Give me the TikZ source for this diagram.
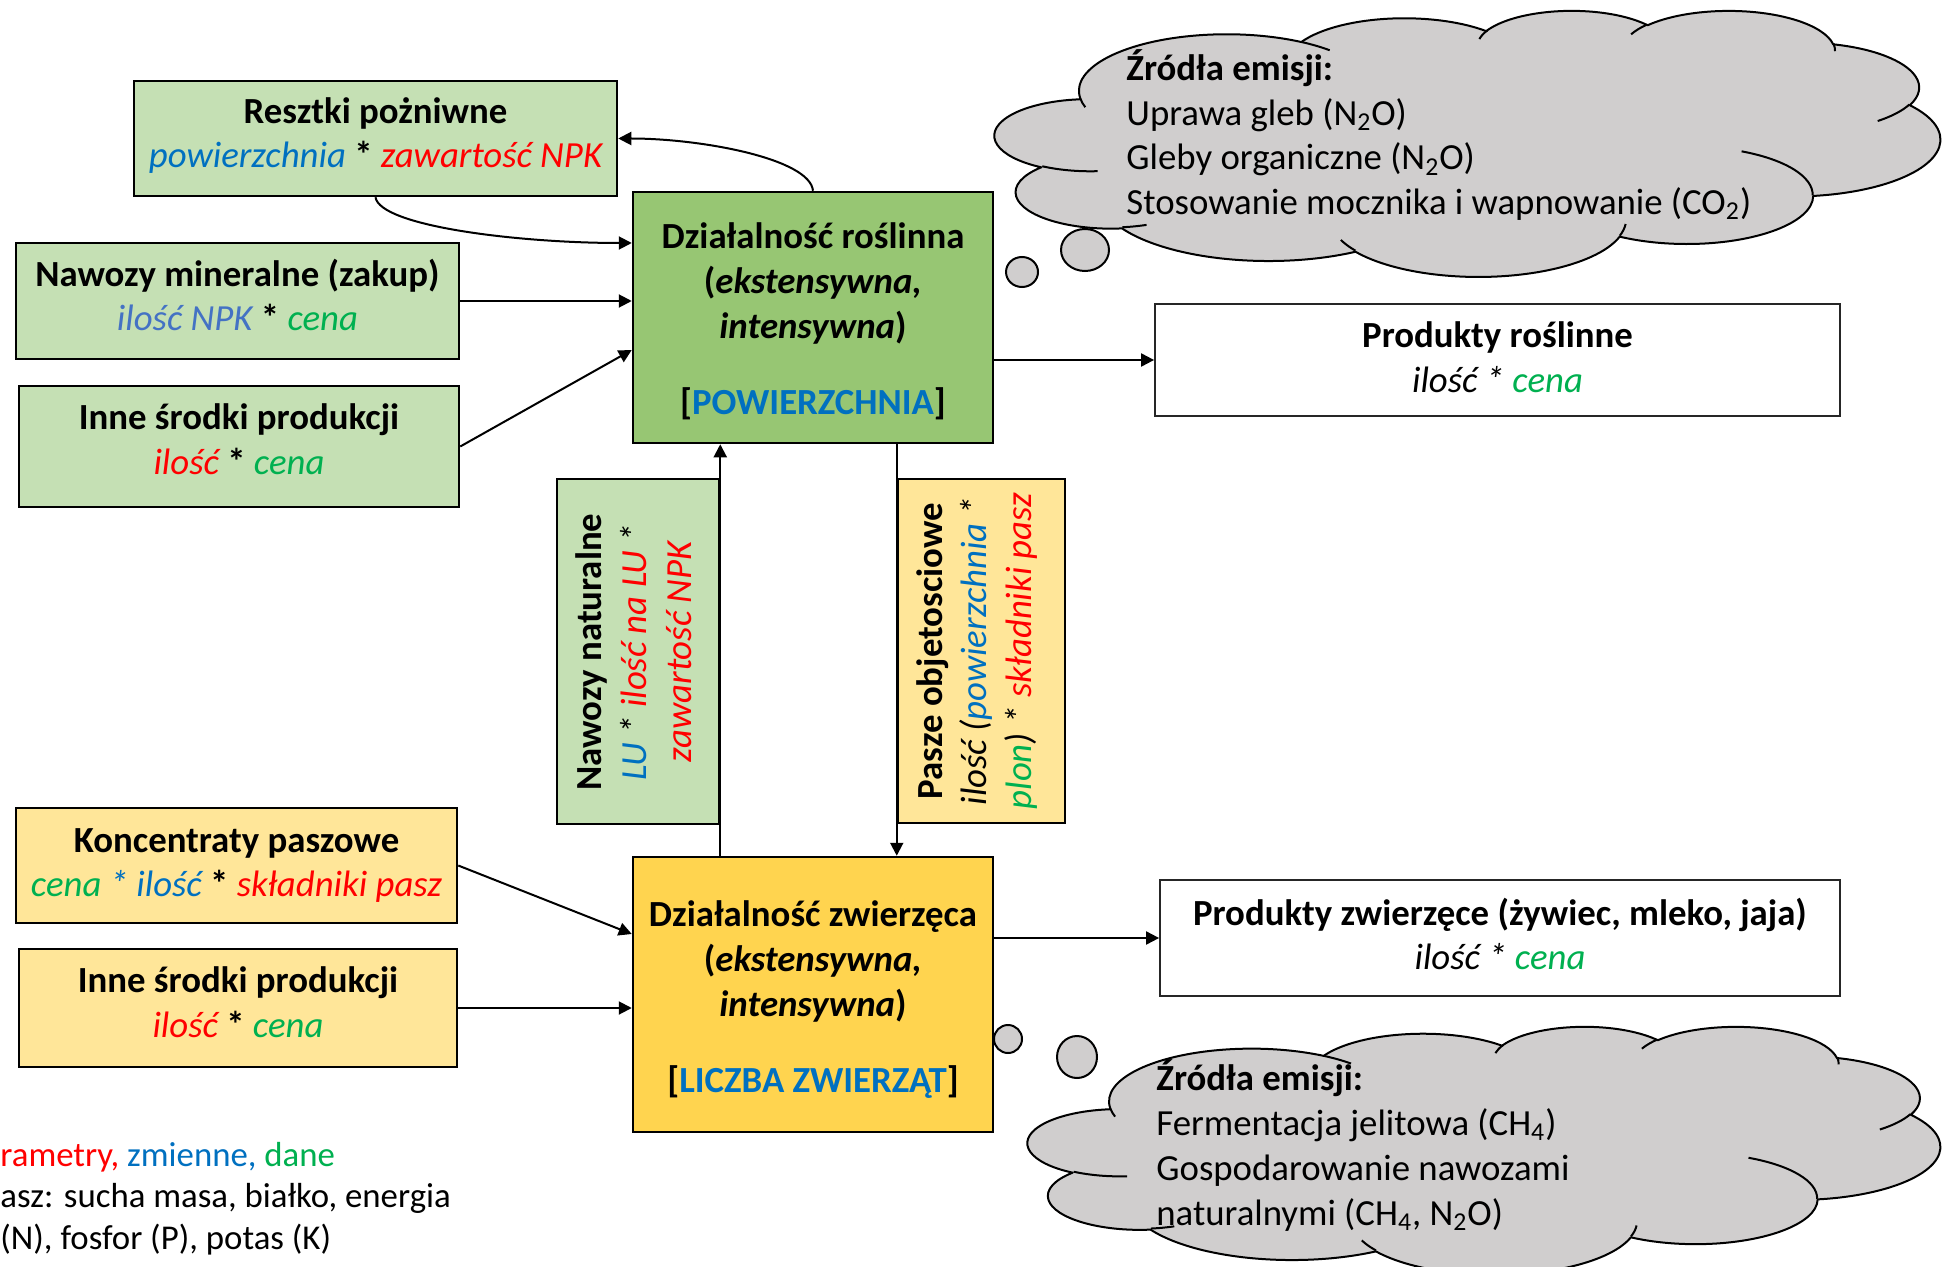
\documentclass[tikz,border=0pt]{standalone}
\usepackage{fontspec}
\setmainfont{Carlito}
\usetikzlibrary{arrows.meta,calc}
\definecolor{lg}{HTML}{C5E0B4}
\definecolor{dg}{HTML}{97C673}
\definecolor{ly}{HTML}{FFE699}
\definecolor{dy}{HTML}{FFD44F}
\definecolor{cg}{HTML}{D0CECE}
\definecolor{cr}{HTML}{FF0000}
\definecolor{cb}{HTML}{0070C0}
\definecolor{cbb}{HTML}{4472C4}
\definecolor{cgr}{HTML}{00B050}
\newcommand\txR[1]{{\color{cr}#1}}
\newcommand\txB[1]{{\color{cb}#1}}
\newcommand\txBB[1]{{\color{cbb}#1}}
\newcommand\txG[1]{{\color{cgr}#1}}
\newcommand\bstar{{\upshape\bfseries *}}
\setlength\lineskiplimit{-100pt}
% OOXML-style elliptical arc: wR hR stAng swAng (visual angles, degrees)
\newcommand\ooarc[4]{%
  \pgfmathsetmacro\ooS{atan2((#1)*sin(#3),(#2)*cos(#3))}%
  \pgfmathsetmacro\ooE{atan2((#1)*sin((#3)+(#4)),(#2)*cos((#3)+(#4)))}%
  \pgfmathsetmacro\ooD{mod(\ooE-\ooS+720,360)}%
  \pgfmathsetmacro\ooEE{\ooS+\ooD}%
  \pgfpatharc{\ooS}{\ooEE}{#1cm and #2cm}}
\newcommand\oocloudpath{%
  \pgfsetroundjoin
  \pgfpathmoveto{\pgfpointxy{3.9}{14.37}}%
  \ooarc{6.753}{9.19}{-190.49}{123.78}%
  \ooarc{5.333}{7.267}{-144.10}{89.95}%
  \ooarc{4.365}{5.945}{-145.81}{99.72}%
  \ooarc{4.857}{6.595}{-130.99}{117.24}%
  \ooarc{5.333}{7.273}{-78.71}{109.03}%
  \ooarc{6.775}{9.22}{-46.27}{130.27}%
  \ooarc{5.785}{7.867}{0.625}{114.03}%
  \ooarc{6.752}{9.215}{22.45}{115.17}%
  \ooarc{7.72}{10.543}{66.24}{75.71}%
  \ooarc{4.36}{5.918}{-274.94}{146.74}%
  \ooarc{4.345}{5.945}{-246.83}{152.52}%
  \pgfpathclose
  \pgfusepath{fill,stroke}%
  \pgfpathmoveto{\pgfpointxy{4.693}{26.177}}\ooarc{4.345}{5.945}{86.74}{26.43}%
  \pgfpathmoveto{\pgfpointxy{6.928}{34.899}}\ooarc{4.36}{5.918}{73.61}{11.45}%
  \pgfpathmoveto{\pgfpointxy{16.478}{39.09}}\ooarc{6.752}{9.215}{137.62}{14.08}%
  \pgfpathmoveto{\pgfpointxy{28.827}{34.751}}\ooarc{6.752}{9.215}{6.45}{16.00}%
  \pgfpathmoveto{\pgfpointxy{34.129}{22.954}}\ooarc{5.785}{7.867}{-70.29}{70.92}%
  \pgfpathmoveto{\pgfpointxy{41.798}{15.354}}\ooarc{5.333}{7.273}{30.32}{27.75}%
  \pgfpathmoveto{\pgfpointxy{38.324}{5.426}}\ooarc{4.857}{6.595}{-13.74}{14.86}%
  \pgfpathmoveto{\pgfpointxy{29.078}{3.952}}\ooarc{4.857}{6.595}{-149.18}{18.20}%
  \pgfpathmoveto{\pgfpointxy{22.141}{4.72}}\ooarc{4.365}{5.945}{-163.49}{17.69}%
  \pgfpathmoveto{\pgfpointxy{14.0}{5.192}}\ooarc{6.753}{9.19}{-66.71}{12.32}%
  \pgfpathmoveto{\pgfpointxy{4.127}{15.789}}\ooarc{6.753}{9.19}{157.65}{11.86}%
  \pgfusepath{stroke}}
\begin{document}
\begin{tikzpicture}[x=0.5pt,y=-0.5pt,
  every node/.style={font=\fontsize{18.4}{22.4}\selectfont, inner sep=0pt, align=center},
  bold/.style={font=\bfseries\fontsize{18.4}{22.4}\selectfont},
  bx/.style={draw, line width=1.25pt},
  pbox/.style={draw=black!85, line width=0.9pt, fill=white},
  arr/.style={-{Triangle[length=6.5pt,width=6.5pt]}, line width=1pt},
  bub/.style={draw, line width=1pt, fill=cg},
  leg/.style={anchor=base west, font=\fontsize{17.4}{21}\selectfont}]
\useasboundingbox (0,0) rectangle (1947,1267);
\fill[white] (0,0) rectangle (1947,1267);

% thought bubbles
\draw[bub] (1022,272) ellipse [x radius=8pt, y radius=7.5pt];
\draw[bub] (1085,250) ellipse [x radius=12pt, y radius=10.5pt];
\draw[bub] (1008,1039) ellipse [x radius=7pt, y radius=7pt];
\draw[bub] (1077,1057) ellipse [x radius=10pt, y radius=10.5pt];

% clouds
\begin{scope}[shift={(995,10)}, x=1cm, y=1cm, xscale=0.38441, yscale=-0.10820]
  \pgfsetlinewidth{1pt}\pgfsetfillcolor{cg}\pgfsetstrokecolor{black}
  \oocloudpath
\end{scope}
\begin{scope}[shift={(1028,1026)}, x=1cm, y=1cm, xscale=0.37098, yscale=-0.10088]
  \pgfsetlinewidth{1pt}\pgfsetfillcolor{cg}\pgfsetstrokecolor{black}
  \oocloudpath
\end{scope}

\node[anchor=west, align=left] (em1) at (1126,135)
  {\textbf{Źródła emisji:}\\Uprawa gleb (N\textsubscript{2}O)\\Gleby organiczne (N\textsubscript{2}O)\\Stosowanie mocznika i wapnowanie (CO\textsubscript{2})};
\node[anchor=west, align=left] (em2) at (1156,1145.5)
  {\textbf{Źródła emisji:}\\Fermentacja jelitowa (CH\textsubscript{4})\\Gospodarowanie nawozami\\naturalnymi (CH\textsubscript{4}, N\textsubscript{2}O)};

% boxes
\node[bx, fill=lg, minimum width=241.5pt, minimum height=57.5pt] (resz) at (375.5,138.5) {};
\node (reszT) at ($(resz)+(0,-3)$)
  {\textbf{Resztki pożniwne}\\\itshape\txB{powierzchnia} \bstar{} \txR{zawartość NPK}};
\node[bx, fill=lg, minimum width=221.5pt, minimum height=58pt] (nawm) at (237.5,301) {};
\node (nawmT) at ($(nawm)+(0,-6)$)
  {\textbf{Nawozy mineralne (zakup)}\\\itshape\txBB{ilość NPK} \bstar{} \txG{cena}};
\node[bx, fill=lg, minimum width=220pt, minimum height=60.5pt] (inneg) at (239,446.5) {};
\node (innegT) at ($(inneg)+(0,-7)$)
  {\textbf{Inne środki produkcji}\\\itshape\txR{ilość} \bstar{} \txG{cena}};
\node[bx, fill=dg, minimum width=180pt, minimum height=125.5pt] (rosl) at (813,317.5) {};
\node[bold] (roslT) at ($(rosl)+(0,4)$)
  {Działalność roślinna\\(\textit{ekstensywna,}\\\textit{intensywna})\\[15.5pt]{[}\txB{POWIERZCHNIA}{]}};
\node[pbox, minimum width=342.5pt, minimum height=56pt] (prodr) at (1497.5,360) {};
\node (prodrT) at ($(prodr)+(0,-2.5)$)
  {\textbf{Produkty roślinne}\\\itshape ilość * \txG{cena}};

\node[bx, fill=lg, minimum width=81pt, minimum height=172.5pt] (nawn) at (638,651.5) {};
\node[rotate=90] (nawnT) at (634,652)
  {\textbf{Nawozy naturalne}\\\itshape\txB{LU} * \txR{ilość na LU} *\\\itshape\txR{zawartość NPK}};
\node[bx, fill=ly, minimum width=83.5pt, minimum height=172pt] (pasze) at (981.5,651) {};
\node[rotate=90] (paszeT) at (977,651)
  {\textbf{Pasze objetosciowe}\\\itshape ilość (\txB{powierzchnia} *\\\itshape\txG{plon}) * \txR{składniki pasz}};

\node[bx, fill=ly, minimum width=220.5pt, minimum height=57.5pt] (konc) at (236.5,865.5) {};
\node (koncT) at (konc)
  {\textbf{Koncentraty paszowe}\\\itshape\txG{cena} \txB{* ilość} \bstar{} \txR{składniki pasz}};
\node[bx, fill=ly, minimum width=219pt, minimum height=59pt] (inney) at (238,1008) {};
\node (inneyT) at ($(inney)+(0,-6)$)
  {\textbf{Inne środki produkcji}\\\itshape\txR{ilość} \bstar{} \txG{cena}};
\node[bx, fill=dy, minimum width=180pt, minimum height=137.5pt] (zw) at (813,994.5) {};
\node[bold] (zwT) at ($(zw)+(0,5)$)
  {Działalność zwierzęca\\(\textit{ekstensywna,}\\\textit{intensywna})\\[15.5pt]{[}\txB{LICZBA ZWIERZĄT}{]}};
\node[pbox, minimum width=340pt, minimum height=58pt] (prodz) at (1500,938) {};
\node (prodzT) at ($(prodz)+(0,-4)$)
  {\textbf{Produkty zwierzęce (żywiec, mleko, jaja)}\\\itshape ilość * \txG{cena}};

% connectors
\draw[arr] (rosl.north) .. controls ($(rosl.north)+(-3,-32)$) and ($(resz.east)+(83,0)$) .. (resz.east);
\draw[arr] (resz.south) .. controls ($(resz.south)+(4.5,29)$) and ($(rosl.west)+(-113,-74.5)$) .. ($(rosl.west)+(0,-74.5)$);
\draw[arr] (nawm.east) -- (nawm.east -| rosl.west);
\draw[arr] (inneg.east) -- ($(rosl.west)+(0,32.5)$);
\draw[arr] (prodr.west -| rosl.east) -- (prodr.west);
\draw[arr] (zw.north -| nawn.east) -- (rosl.south -| nawn.east);
\draw[arr] (rosl.south -| pasze.west) -- (zw.north -| pasze.west);
\draw[arr] (konc.east) -- ($(zw.west)+(0,-60.5)$);
\draw[arr] (inney.east) -- (inney.east -| zw.west);
\draw[arr] (prodz.west -| zw.east) -- (prodz.west);

% legend (clipped at the left edge)
\node[leg] (leg1) at (0,1166) {\txR{rametry,} \txB{zmienne,} \txG{dane}};
\node[leg] (leg2) at (0,1207) {asz: sucha masa, białko, energia};
\node[leg] (leg3) at (0,1249) {(N), fosfor (P), potas (K)};
\end{tikzpicture}
\end{document}
